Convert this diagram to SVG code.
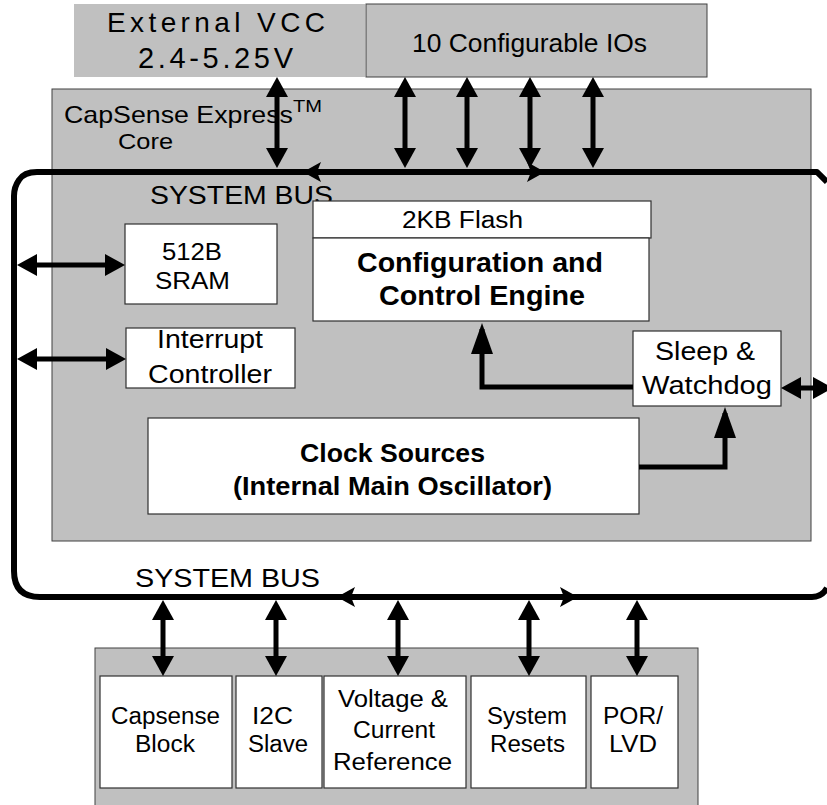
<svg xmlns="http://www.w3.org/2000/svg" width="827" height="805" viewBox="0 0 827 805">
<defs>
<style>
.gray{fill:#c0c0c0;stroke:#404040;stroke-width:1}
.box{fill:#ffffff;stroke:#303030;stroke-width:1.2}
.t{font-family:"Liberation Sans",Arial,sans-serif;fill:#000}
.b{font-weight:bold}
.bus{fill:none;stroke:#000;stroke-width:6;stroke-linejoin:round}
.ar{fill:none;stroke:#000;stroke-width:5;marker-start:url(#ah);marker-end:url(#ah)}
.arL{fill:none;stroke:#000;stroke-width:5;marker-end:url(#ahL)}
.bh{fill:#000}
</style>
<marker id="ah" viewBox="0 0 20 22" refX="14" refY="11" markerWidth="20" markerHeight="22" markerUnits="userSpaceOnUse" orient="auto-start-reverse">
<path d="M0,0 L20,11 L0,22 Z" fill="#000"/>
</marker>
<marker id="ahL" viewBox="0 0 31 22" refX="25" refY="11" markerWidth="31" markerHeight="22" markerUnits="userSpaceOnUse" orient="auto">
<path d="M0,0 L31,11 L0,22 Z" fill="#000"/>
</marker>
</defs>

<g id="external-vcc">
<rect x="74" y="4" width="291" height="73" fill="#c0c0c0"/>
<text class="t" x="107" y="32" font-size="28" textLength="218" lengthAdjust="spacing">External VCC</text>
<text class="t" x="138" y="68" font-size="29" textLength="155" lengthAdjust="spacing">2.4-5.25V</text>
</g>

<g id="configurable-ios">
<rect class="gray" x="366" y="4" width="341" height="73"/>
<text class="t" x="412" y="52" font-size="25" textLength="235" lengthAdjust="spacingAndGlyphs">10 Configurable IOs</text>
</g>

<g id="core">
<rect class="gray" x="52" y="89" width="759" height="452"/>
<text class="t" x="64" y="123" font-size="24" textLength="229" lengthAdjust="spacingAndGlyphs">CapSense Express</text>
<text class="t" x="293" y="112" font-size="17" textLength="29" lengthAdjust="spacingAndGlyphs">TM</text>
<text class="t" x="118" y="149" font-size="22" textLength="55" lengthAdjust="spacingAndGlyphs">Core</text>
</g>

<g id="system-bus-top-label">
<text class="t" x="150" y="204" font-size="25" textLength="183" lengthAdjust="spacingAndGlyphs">SYSTEM BUS</text>
</g>

<g id="flash">
<rect class="box" x="313" y="201" width="338" height="37"/>
<text class="t" x="402" y="228" font-size="23" textLength="121" lengthAdjust="spacingAndGlyphs">2KB Flash</text>
</g>

<g id="config-engine">
<rect class="box" x="313" y="238" width="336" height="83"/>
<text class="t b" x="357" y="272" font-size="27" textLength="246" lengthAdjust="spacingAndGlyphs">Configuration and</text>
<text class="t b" x="379" y="305" font-size="27" textLength="206" lengthAdjust="spacingAndGlyphs">Control Engine</text>
</g>

<g id="sram">
<rect class="box" x="125" y="224" width="152" height="80"/>
<text class="t" x="162" y="260" font-size="24" textLength="60" lengthAdjust="spacingAndGlyphs">512B</text>
<text class="t" x="155" y="289" font-size="24" textLength="75" lengthAdjust="spacingAndGlyphs">SRAM</text>
</g>

<g id="interrupt-controller">
<rect class="box" x="126" y="328" width="169" height="60"/>
<text class="t" x="157" y="348" font-size="25" textLength="106" lengthAdjust="spacingAndGlyphs">Interrupt</text>
<text class="t" x="148" y="383" font-size="25" textLength="124" lengthAdjust="spacingAndGlyphs">Controller</text>
</g>

<g id="sleep-watchdog">
<rect class="box" x="633" y="331" width="148" height="75"/>
<text class="t" x="655" y="360" font-size="26" textLength="100" lengthAdjust="spacingAndGlyphs">Sleep &amp;</text>
<text class="t" x="642" y="394" font-size="26" textLength="130" lengthAdjust="spacingAndGlyphs">Watchdog</text>
</g>

<g id="clock-sources">
<rect class="box" x="148" y="418" width="491" height="96"/>
<text class="t b" x="300" y="462" font-size="26" textLength="185" lengthAdjust="spacingAndGlyphs">Clock Sources</text>
<text class="t b" x="233" y="495" font-size="26" textLength="319" lengthAdjust="spacingAndGlyphs">(Internal Main Oscillator)</text>
</g>

<g id="system-bus-bottom-label">
<text class="t" x="135" y="587" font-size="25" textLength="185" lengthAdjust="spacingAndGlyphs">SYSTEM BUS</text>
</g>

<g id="peripherals">
<rect class="gray" x="95" y="648" width="603" height="165"/>
</g>

<g id="capsense-block">
<rect class="box" x="100" y="676" width="132" height="112"/>
<text class="t" x="111" y="724" font-size="23" textLength="109" lengthAdjust="spacingAndGlyphs">Capsense</text>
<text class="t" x="135" y="752" font-size="23" textLength="60" lengthAdjust="spacingAndGlyphs">Block</text>
</g>

<g id="i2c-slave">
<rect class="box" x="236" y="676" width="86" height="112"/>
<text class="t" x="252" y="724" font-size="23" textLength="41" lengthAdjust="spacingAndGlyphs">I2C</text>
<text class="t" x="248" y="752" font-size="23" textLength="60" lengthAdjust="spacingAndGlyphs">Slave</text>
</g>

<g id="voltage-current-reference">
<rect class="box" x="324" y="676" width="142" height="112"/>
<text class="t" x="338" y="707" font-size="23" textLength="110" lengthAdjust="spacingAndGlyphs">Voltage &amp;</text>
<text class="t" x="353" y="738" font-size="23" textLength="82" lengthAdjust="spacingAndGlyphs">Current</text>
<text class="t" x="333" y="770" font-size="23" textLength="119" lengthAdjust="spacingAndGlyphs">Reference</text>
</g>

<g id="system-resets">
<rect class="box" x="471" y="676" width="115" height="112"/>
<text class="t" x="487" y="724" font-size="23" textLength="80" lengthAdjust="spacingAndGlyphs">System</text>
<text class="t" x="490" y="752" font-size="23" textLength="75" lengthAdjust="spacingAndGlyphs">Resets</text>
</g>

<g id="por-lvd">
<rect class="box" x="591" y="676" width="87" height="112"/>
<text class="t" x="603" y="724" font-size="23" textLength="60" lengthAdjust="spacingAndGlyphs">POR/</text>
<text class="t" x="609" y="752" font-size="23" textLength="48" lengthAdjust="spacingAndGlyphs">LVD</text>
</g>

<g id="connectors">
<path class="bus" d="M827,182 L817,172 L37,172 Q24,172 19,180 Q14,187 14,196 L14,571 Q14,597 40,597 L812,597 Q822,597 827,588"/>
<path class="bh" d="M303,172 L321,162 L317,172 L321,182 Z"/>
<path class="bh" d="M545,172 L527,162 L531,172 L527,182 Z"/>
<path class="bh" d="M337,597 L355,587 L351,597 L355,607 Z"/>
<path class="bh" d="M578,597 L560,587 L564,597 L560,607 Z"/>

<line class="ar" x1="277" y1="83" x2="277" y2="162"/>
<line class="ar" x1="405" y1="83" x2="405" y2="162"/>
<line class="ar" x1="467" y1="83" x2="467" y2="162"/>
<line class="ar" x1="530" y1="83" x2="530" y2="162"/>
<line class="ar" x1="593" y1="83" x2="593" y2="162"/>

<line class="ar" x1="23" y1="265" x2="119" y2="265"/>
<line class="ar" x1="23" y1="359" x2="120" y2="359"/>
<line class="ar" x1="787" y1="388" x2="827" y2="388"/>

<path class="arL" d="M633,387 H482 V329"/>
<path class="arL" d="M639,467 H725 V413"/>

<line class="ar" x1="163" y1="606" x2="163" y2="670"/>
<line class="ar" x1="276" y1="606" x2="276" y2="670"/>
<line class="ar" x1="398" y1="606" x2="398" y2="670"/>
<line class="ar" x1="529" y1="606" x2="529" y2="670"/>
<line class="ar" x1="637" y1="606" x2="637" y2="670"/>
</g>
</svg>
